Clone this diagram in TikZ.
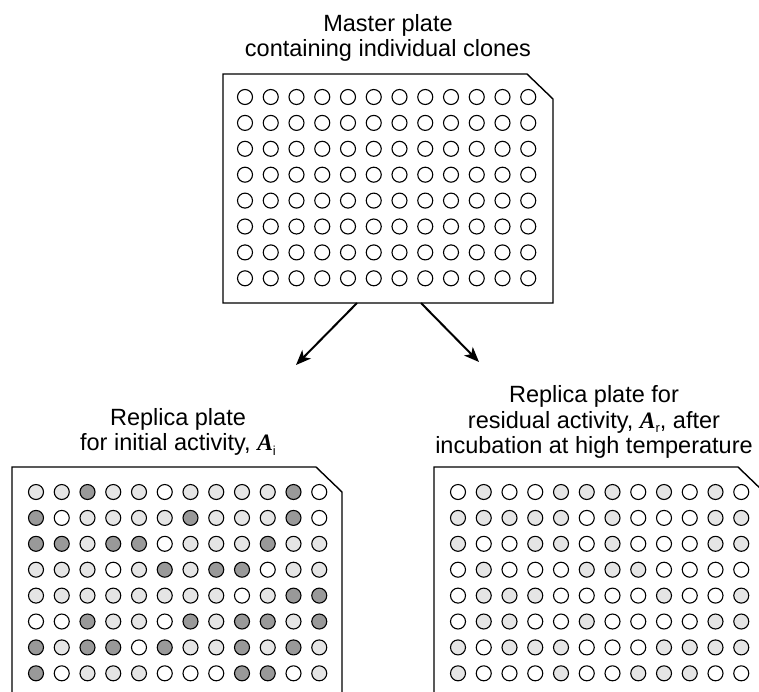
\documentclass[tikz,border=0pt]{standalone}
\usepackage{fontspec}
\setmainfont{Liberation Sans}
\newfontfamily\serifA{Liberation Serif}
\usetikzlibrary{arrows.meta}
\newcommand{\Avar}[1]{{\serifA\bfseries\itshape A}\raisebox{-0.35ex}{\fontsize{13}{13}\selectfont #1}}
\definecolor{wellW}{gray}{1}
\definecolor{wellL}{gray}{0.9}
\definecolor{wellD}{gray}{0.6}
\begin{document}
\begin{tikzpicture}[x=1pt,y=-1pt,
  plateline/.style={line width=1.4pt, draw=black},
  well/.style={line width=1.1pt, draw=black},
  lbl/.style={align=center, font=\fontsize{23.5}{25.5}\selectfont, inner sep=0pt, anchor=south},
  arr/.style={line width=2pt, -{Stealth[length=15pt,width=12pt,inset=4pt]}}]
\path[use as bounding box, clip] (0,0) rectangle (759,691);

% ---- master plate ----
\draw[plateline] (223,74) -- (527,74) -- (553,99) -- (553,303) -- (223,303) -- cycle;
\foreach \r in {0,...,7}{
  \foreach \k in {0,...,11}{
    \filldraw[well, fill=wellW] (245+\k*25.75, 97+\r*25.9) circle[radius=7.5];
  }
}
\node[lbl] (mlabel) at (388,62) {Master plate\\containing individual clones};

% ---- left replica plate ----
\draw[plateline] (12,700) -- (12,467) -- (316,467) -- (342,492) -- (342,700);
\foreach \rw [count=\r from 0] in {
  {L,L,D,L,L,W,L,L,L,L,D,W},
  {D,W,L,L,L,L,D,L,L,L,D,W},
  {D,D,L,D,D,W,L,L,L,D,L,L},
  {L,L,L,W,L,D,L,D,D,W,L,L},
  {L,L,L,L,L,L,L,L,W,L,D,D},
  {W,W,D,L,L,W,D,L,D,D,L,D},
  {D,L,D,D,W,D,L,L,D,L,D,L},
  {D,W,L,L,L,W,W,W,D,D,W,L}}{
  \foreach \c [count=\k from 0] in \rw {
    \filldraw[well, fill=well\c] (36+\k*25.75, 492+\r*25.9) circle[radius=7.5];
  }
}
\node[lbl] (llabel) at (178,456) {Replica plate\\for initial activity, \Avar{i}};

% ---- right replica plate ----
\draw[plateline] (434,700) -- (434,467) -- (738,467) -- (764,492) -- (764,700);
\foreach \rw [count=\r from 0] in {
  {W,L,W,W,L,L,L,W,L,W,L,W},
  {L,L,L,L,L,W,L,W,W,W,L,L},
  {L,W,W,L,L,W,L,W,W,W,L,L},
  {W,L,W,W,W,L,L,L,W,W,W,W},
  {W,L,L,L,W,W,W,W,L,W,W,L},
  {W,L,L,W,W,L,W,W,W,W,L,L},
  {L,W,L,L,L,W,W,W,L,L,L,L},
  {L,W,W,W,L,W,W,L,L,L,W,W}}{
  \foreach \c [count=\k from 0] in \rw {
    \filldraw[well, fill=well\c] (458+\k*25.75, 492+\r*25.9) circle[radius=7.5];
  }
}
\node[lbl] (rlabel) at (594,459) {Replica plate for\\residual activity, \Avar{r}, after\\incubation at high temperature};

% ---- arrows ----
\coordinate (mL) at (357,303);
\coordinate (mR) at (421,303);
\coordinate (tL) at (296,365);
\coordinate (tR) at (479,362);
\draw[arr] (mL) -- (tL);
\draw[arr] (mR) -- (tR);
\end{tikzpicture}
\end{document}
